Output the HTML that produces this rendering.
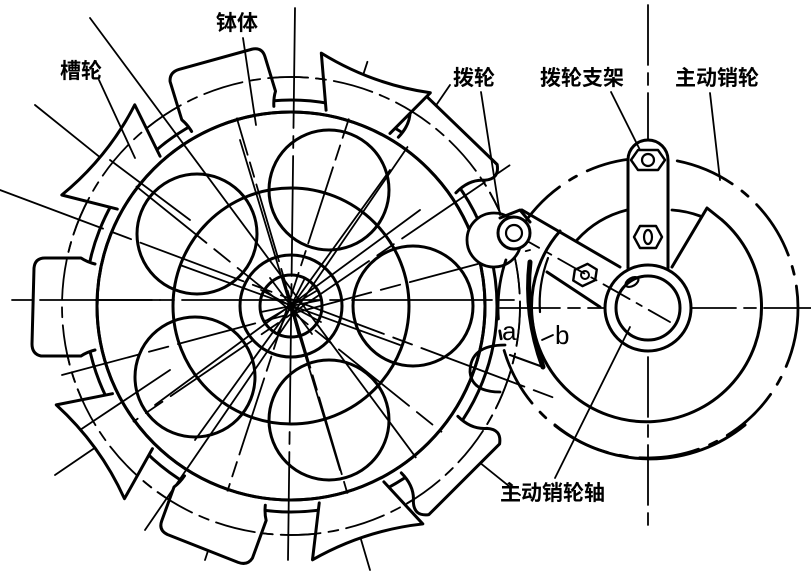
<!DOCTYPE html>
<html><head><meta charset="utf-8">
<style>
html,body{margin:0;padding:0;background:#fff;}
svg{display:block;}
text{font-family:"Liberation Sans","Noto Sans CJK SC",sans-serif;font-weight:bold;fill:#000;}
</style></head>
<body>
<svg width="811" height="573" viewBox="0 0 811 573" xmlns="http://www.w3.org/2000/svg">
<g fill="none" stroke="#000" stroke-linecap="round" stroke-linejoin="round">
<g stroke-width="1.8">
<line x1="12" y1="300" x2="520" y2="300" stroke-dasharray="140,8,14,8"/>
<line x1="295" y1="8" x2="288" y2="560" stroke-dasharray="120,8,12,8"/>
<line x1="90" y1="18" x2="440" y2="490"/>
<line x1="35" y1="105" x2="520" y2="495" stroke-dasharray="90,10,20,10"/>
<line x1="0" y1="190" x2="560" y2="400" stroke-dasharray="110,10,20,10"/>
<line x1="55" y1="475" x2="510" y2="165" stroke-dasharray="100,10,20,10"/>
<line x1="145" y1="530" x2="450" y2="85"/>
<line x1="205" y1="560" x2="368" y2="60" stroke-dasharray="80,8,15,8"/>
<line x1="225" y1="78" x2="370" y2="570" stroke-dasharray="80,8,15,8"/>
<line x1="62" y1="375" x2="530" y2="250" stroke-dasharray="80,10,20,10"/>
<line x1="155" y1="405" x2="420" y2="210"/>
<line x1="195" y1="440" x2="390" y2="170"/>
<line x1="240" y1="140" x2="340" y2="470"/>
<line x1="180" y1="265" x2="400" y2="345"/>
</g>
<circle cx="291" cy="306" r="229" stroke-width="1.8" stroke-dasharray="40,8,10,8"/>
<circle cx="291" cy="306" r="206" stroke-width="3"/>
<circle cx="291" cy="306" r="194" stroke-width="3"/>
<g stroke-width="3" fill="#fff">
<path d="M196,-44 Q204,-46 210,-50 L250,-50 Q259,-48 259,-38 L257,38 Q256,48 246,48 L210,48 Q204,44 196,42" transform="translate(291,306) rotate(180)"/>
<path d="M196,-44 Q204,-46 210,-50 L250,-50 Q259,-48 259,-38 L257,38 Q256,48 246,48 L210,48 Q204,44 196,42" transform="translate(291,306) rotate(-107)"/>
<path d="M196,-44 Q204,-46 210,-50 L250,-50 Q259,-48 259,-38 L257,38 Q256,48 246,48 L210,48 Q204,44 196,42" transform="translate(291,306) rotate(110)"/>
<path d="M196,-40 Q215,-40 225,-52 Q236,-62 245,-50 L245,50 Q236,62 225,52 Q215,40 196,40" transform="translate(291,306) rotate(-46)"/>
<path d="M196,-40 Q215,-40 225,-52 Q236,-62 245,-50 L245,50 Q236,62 225,52 Q215,40 196,40" transform="translate(291,306) rotate(45)"/>
<path d="M196,-34 L248,-58 Q236,0 248,58 L196,34" transform="translate(291,306) rotate(-141)"/>
<path d="M196,-34 L248,-58 Q236,0 248,58 L196,34" transform="translate(291,306) rotate(144)"/>
<path d="M196,-34 L248,-58 Q236,0 248,58 L196,34" transform="translate(291,306) rotate(-70)"/>
<path d="M196,-34 L248,-58 Q236,0 248,58 L196,34" transform="translate(291,306) rotate(72)"/>
</g>
<circle cx="291" cy="306" r="194" stroke-width="3"/>
<circle cx="291" cy="306" r="229" stroke-width="1.8" stroke-dasharray="40,8,10,8"/>
<g stroke-width="1.8">
<line x1="40" y1="300" x2="160" y2="300"/>
<line x1="110" y1="160" x2="190" y2="220"/>
<line x1="80" y1="430" x2="170" y2="370"/>
</g>
<g stroke-width="3">
<circle cx="413" cy="306" r="60"/>
<circle cx="329" cy="190" r="60"/>
<circle cx="197" cy="234" r="60"/>
<circle cx="195" cy="377" r="60"/>
<circle cx="329" cy="420" r="60"/>
<circle cx="291" cy="306" r="118"/>
<circle cx="291" cy="306" r="51"/>
<circle cx="291" cy="306" r="31"/>
</g>
<g stroke-width="1.8">
<line x1="261" y1="290" x2="321" y2="322"/><line x1="270" y1="278" x2="312" y2="334"/>
<line x1="283" y1="275" x2="299" y2="337"/><line x1="305" y1="278" x2="277" y2="334"/>
<line x1="318" y1="290" x2="264" y2="322"/><line x1="261" y1="312" x2="321" y2="300"/>
</g>
<circle cx="494" cy="240" r="27" stroke-width="2.8" fill="#fff"/>
<path d="M505,345 Q470,345 470,372 Q472,392 500,392" stroke-width="2.8"/>
<line x1="648" y1="5" x2="648" y2="530" stroke-width="1.8" stroke-dasharray="60,8,12,8"/>
<line x1="500" y1="308" x2="811" y2="308" stroke-width="1.8" stroke-dasharray="60,8,12,8"/>
<path d="M722,220 A115,115 0 1 1 560,231" stroke-width="3"/>
<path d="M577,240 A100,100 0 0 1 627,210" stroke-width="2.8"/>
<path d="M672,210 A100,100 0 0 1 700,216" stroke-width="2.8"/>
<circle cx="648" cy="308" r="150" stroke-width="2.8" stroke-dasharray="60,12,8,12"/>
<path d="M555,425 A150,150 0 0 0 745,425" stroke-width="3"/>
<path d="M672,267 L707,208 L722,220" stroke-width="3"/>
<path d="M628,268 L628,160 A20,20 0 0 1 668,160 L668,268" stroke-width="3" fill="#fff"/>
<polygon points="638,150 658,150 665,160 658,170 638,170 631,160" stroke-width="2.4"/>
<circle cx="648" cy="160" r="6" stroke-width="2.2"/>
<polygon points="640,226 656,226 662,237 656,248 640,248 634,237" stroke-width="2.4"/>
<ellipse cx="648" cy="237" rx="4" ry="7" stroke-width="2.2"/>
<line x1="522" y1="210" x2="620" y2="267" stroke-width="3"/>
<line x1="547" y1="272" x2="600" y2="307" stroke-width="3"/>
<circle cx="648" cy="308" r="43" stroke-width="3" fill="#fff"/>
<circle cx="648" cy="308" r="32" stroke-width="3"/>
<ellipse cx="632" cy="282" rx="7" ry="4" stroke-width="2.2" transform="rotate(-30 632 282)"/>
<line x1="513" y1="233" x2="670" y2="322" stroke-width="1.8" stroke-dasharray="30,8,6,8"/>
<polygon points="578,266 592,266 598,275 592,284 578,284 572,275" stroke-width="2.4" transform="rotate(-25 585 275)"/>
<circle cx="585" cy="275" r="4" stroke-width="2"/>
<circle cx="514" cy="233" r="16" stroke-width="3" fill="#fff"/>
<circle cx="514" cy="233" r="8" stroke-width="2.2"/>
<path d="M500,218 L520,210 L530,222" stroke-width="3"/>
<path d="M530,262 Q524,315 543,367" stroke-width="5"/>
<path d="M548,258 Q538,285 540,312" stroke-width="2.2"/>
<line x1="543" y1="367" x2="510" y2="355" stroke-width="2.2"/>
<line x1="542" y1="340" x2="553" y2="335" stroke-width="1.8"/>
<g stroke-width="1.8">
<line x1="99" y1="80" x2="135" y2="158"/>
<line x1="243" y1="38" x2="256" y2="125"/>
<line x1="481" y1="92" x2="500" y2="215"/>
<line x1="611" y1="92" x2="640" y2="150"/>
<line x1="710" y1="93" x2="720" y2="180"/>
<line x1="555" y1="478" x2="630" y2="327"/>
</g>
</g>
<g font-size="21">
<text x="60" y="78">槽轮</text>
<text x="216" y="30">钵体</text>
<text x="453" y="85">拨轮</text>
<text x="540" y="85">拨轮支架</text>
<text x="675" y="85">主动销轮</text>
<text x="500" y="500">主动销轮轴</text>
</g>
<text x="502" y="340" font-size="26" style="font-weight:normal;font-family:'Liberation Sans',sans-serif">a</text>
<text x="555" y="344" font-size="26" style="font-weight:normal;font-family:'Liberation Sans',sans-serif">b</text>
</svg>
</body></html>
